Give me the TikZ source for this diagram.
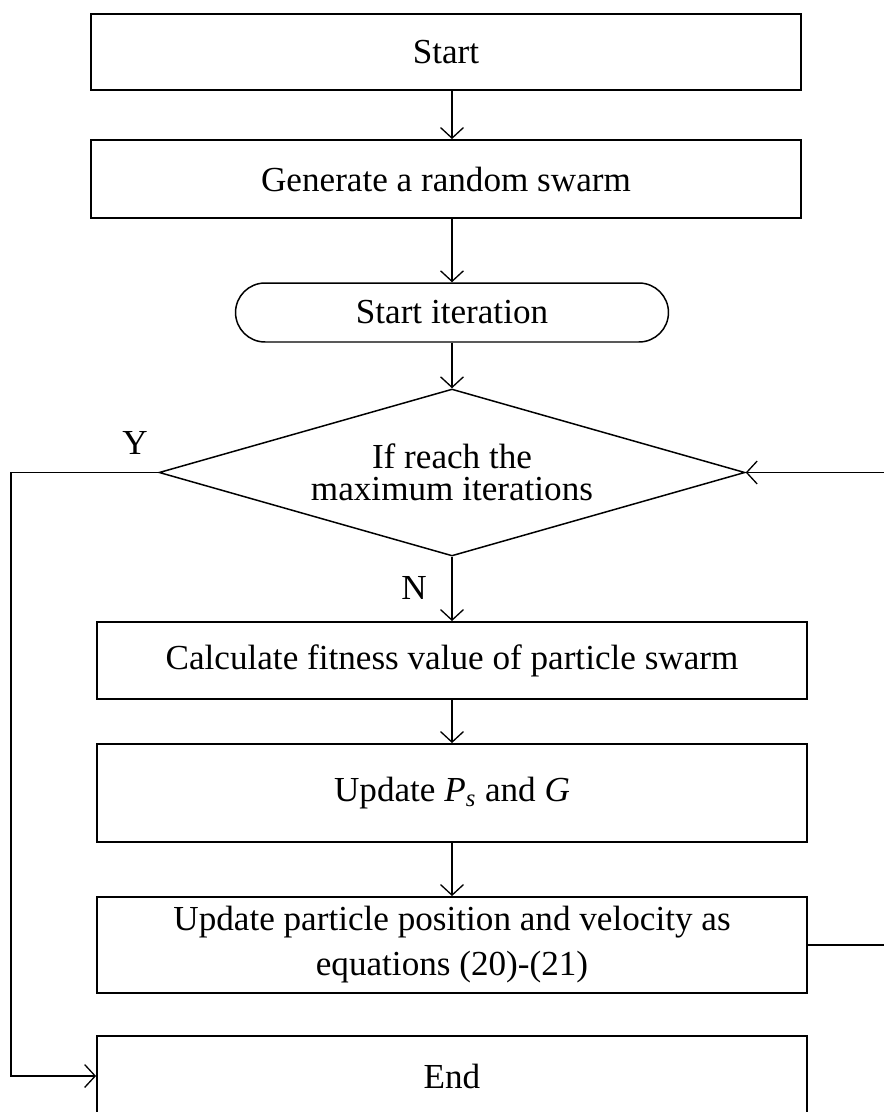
\documentclass[tikz,border=0pt]{standalone}
\usepackage{fontspec}
\setmainfont{Liberation Serif}
\usepackage{tikz}
\usetikzlibrary{shapes.geometric,arrows.meta}

\begin{document}
\begin{tikzpicture}[x=0.02cm, y=-0.02cm,
        font=\fontsize{20}{25.6}\selectfont,
        flowbox/.style={rectangle, draw=black, line width=1.1pt, text centered, minimum width=14.2cm, inner sep=0pt},
        flowline/.style={line width=0.75pt, -{Straight Barb[length=6pt, width=13pt]}}]
            \useasboundingbox (0, 0) rectangle (883, 1112);
            \node [flowbox, minimum height=1.52cm] (start) at (446, 52) {Start};
            \node [flowbox, minimum height=1.56cm] (gen) at (446, 179) {Generate a random swarm};
            \node [rectangle, rounded corners=0.59cm, draw=black, line width=0.85pt, minimum width=8.66cm, minimum height=1.18cm] (iter) at (452, 312.5) {Start iteration};
            \node [diamond, draw=black, line width=0.85pt, shape aspect=3.5, inner sep=0pt, minimum width=11.72cm, minimum height=3.34cm, align=center, font=\fontsize{20}{18.5}\selectfont] (cond) at (452, 472.5) {If reach the\\maximum iterations};
            \node [flowbox, minimum height=1.54cm] (calc) at (452, 660.5) {Calculate fitness value of particle swarm};
            \node [flowbox, minimum height=1.96cm] (upd) at (452, 793) {Update \textit{P}\textsubscript{\textit{s}} and \textit{G}};
            \node [flowbox, minimum height=1.92cm, align=center] (move) at (452, 945) {Update particle position and velocity as\\equations (20)-(21)};
            \node [flowbox, minimum height=1.6cm] (end) at (452, 1076) {End};
            \node (ylab) at (135, 443) {Y};
            \node (nlab) at (414, 588) {N};
            \coordinate (lrail) at (11, 0);
            \coordinate (rrail) at (886, 0);
            \draw [flowline] (start.south -| iter.north) -- (gen.north -| iter.north);
            \draw [flowline] (gen.south -| iter.north) -- (iter.north);
            \draw [flowline] (iter) -- (cond);
            \draw [flowline] (cond) -- (calc);
            \draw [flowline] (calc) -- (upd);
            \draw [flowline] (upd) -- (move);
            \draw [flowline] (cond.west) -- (cond.west -| lrail) |- (end.west);
            \draw [flowline] (move.east) -- (move.east -| rrail) |- (cond.east);
        \end{tikzpicture}
\end{document}
